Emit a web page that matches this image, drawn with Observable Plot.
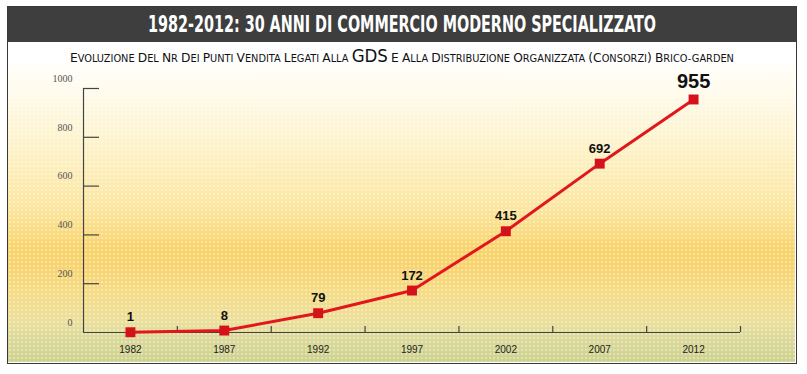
<!DOCTYPE html>
<html>
<head>
<meta charset="utf-8">
<script src="https://cdn.jsdelivr.net/npm/d3@7"></script>
<script src="https://cdn.jsdelivr.net/npm/@observablehq/plot@0.6"></script>
<style>
  html, body { margin: 0; padding: 0; background: #fff; }
  body { width: 807px; height: 374px; position: relative; overflow: hidden; }
  .narrow { font-family: "Liberation Sans Narrow", "DejaVu Sans Condensed", "Roboto Condensed", sans-serif; font-stretch: condensed; }
  #frame { position: absolute; left: 7px; top: 6px; width: 790px; height: 358px; border: 1px solid #3a3a3a; box-sizing: border-box; pointer-events: none; }
  #header { position: absolute; left: 7px; top: 6px; width: 790px; height: 36px; background: #3e3e3e; color: #fff; text-align: center; line-height: 36px; font-size: 23px; font-weight: bold; white-space: nowrap; }
  #subtitle { position: absolute; left: 7px; top: 46px; width: 790px; text-align: center; font-size: 10px; color: #111; line-height: 20px; white-space: nowrap; }
  #subtitle .init { font-size: 12.5px; }
  #subtitle .big { font-size: 17px; }
  .fit { display: inline-block; transform-origin: center center; }
  #chart { position: absolute; left: 8px; top: 64px; }
</style>
</head>
<body>
<div id="header" class="narrow"><span class="fit" id="titleText"></span></div>
<div id="subtitle" class="narrow"><span class="fit" id="subText"></span></div>
<div id="chart"></div>
<div id="frame"></div>
<script>
const title = "1982-2012: 30 ANNI DI COMMERCIO MODERNO SPECIALIZZATO";
const subtitleWords = ["EVOLUZIONE", "DEL", "NR", "DEI", "PUNTI", "VENDITA", "LEGATI", "ALLA", "GDS", "E", "ALLA", "DISTRIBUZIONE", "ORGANIZZATA", "(CONSORZI)", "BRICO-GARDEN"];
const subtitleBigWord = "GDS";
const years = [1982, 1987, 1992, 1997, 2002, 2007, 2012];
const values = [1, 8, 79, 172, 415, 692, 955];
const yTicks = [0, 200, 400, 600, 800, 1000];

const titleEl = document.getElementById("titleText");
titleEl.textContent = title;
const sub = document.getElementById("subText");
subtitleWords.forEach((word, i) => {
  if (i > 0) sub.append(" ");
  if (word === subtitleBigWord) {
    const s = document.createElement("span"); s.className = "big"; s.textContent = word; sub.append(s);
    return;
  }
  // leading punctuation + first letter drawn a bit larger (small-caps look)
  const m = word.match(/^([^A-Z]*)([A-Z])(.*)$/);
  if (m) {
    const s = document.createElement("span"); s.className = "init"; s.textContent = m[1] + m[2];
    sub.append(s);
    const rest = m[3];
    const close = rest.match(/^(.*?)(\)?)$/);
    sub.append(close[1]);
    if (close[2]) { const c = document.createElement("span"); c.className = "init"; c.textContent = close[2]; sub.append(c); }
  } else sub.append(word);
});
function fitWidth(el, target) {
  const w = el.getBoundingClientRect().width;
  if (w > 0) el.style.transform = `scaleX(${target / w})`;
}
fitWidth(titleEl, 508);
fitWidth(sub, 664);

const data = years.map((year, i) => ({year, value: values[i]}));
const step = years[1] - years[0];
const xMin = years[0] - step / 2;
const xMax = years[years.length - 1] + step / 2;
const boundaries = years.map(y => y + step / 2);
const last = data[data.length - 1];

const W = 787, H = 298;
const chart = Plot.plot({
  width: W, height: H,
  marginLeft: 75, marginRight: 55, marginTop: 24, marginBottom: 30,
  style: {
    background: "radial-gradient(circle, rgba(255,255,255,0.35) 0.9px, rgba(255,255,255,0) 1.3px) 0 0 / 4px 4px, linear-gradient(to bottom, #fffefa 0%, #fffbee 8%, #fdf2c8 28%, #fce6a0 48%, #f9d46c 62%, #f8d470 68%, #f5dc86 77%, #ecdf9a 86%, #dcd99a 92%, #cdd28e 100%)",
    fontFamily: "Liberation Sans, Arial, sans-serif",
    overflow: "visible"
  },
  x: {domain: [xMin, xMax], axis: null},
  y: {domain: [0, 1000], axis: null},
  marks: [
    Plot.ruleX([xMin], {stroke: "#444", strokeWidth: 1.2}),
    Plot.ruleY([0], {stroke: "#444", strokeWidth: 1.2}),
    Plot.axisY({ticks: yTicks.filter(d => d > 0), tickSize: -16, fill: "none", stroke: "#444", strokeWidth: 1.2, label: null}),
    Plot.axisY({ticks: yTicks, tickSize: 0, tickPadding: 11, dy: -10, stroke: "none", fill: "#555", fontSize: 10, fontFamily: "Liberation Serif, DejaVu Serif, serif", label: null, tickFormat: d => String(d)}),
    Plot.axisX({ticks: boundaries, tickSize: -6, fill: "none", stroke: "#444", strokeWidth: 1.2, label: null}),
    Plot.axisX({ticks: years, tickSize: 0, tickPadding: 13, stroke: "none", fill: "#222", fontSize: 10, label: null, tickFormat: d => String(d)}),
    Plot.line(data, {x: "year", y: "value", stroke: "#e2171d", strokeWidth: 3}),
    Plot.dot(data, {x: "year", y: "value", symbol: "square", r: 5.6, fill: "#d5121a", stroke: "none"}),
    Plot.text(data.slice(0, -1), {x: "year", y: "value", text: d => String(d.value), dy: -15, fontSize: 13, fontWeight: "bold", fill: "#111"}),
    Plot.text([last], {x: "year", y: "value", text: d => String(d.value), dy: -18, fontSize: 20, fontWeight: "bold", fill: "#111"})
  ]
});
document.getElementById("chart").append(chart);
</script>
</body>
</html>
